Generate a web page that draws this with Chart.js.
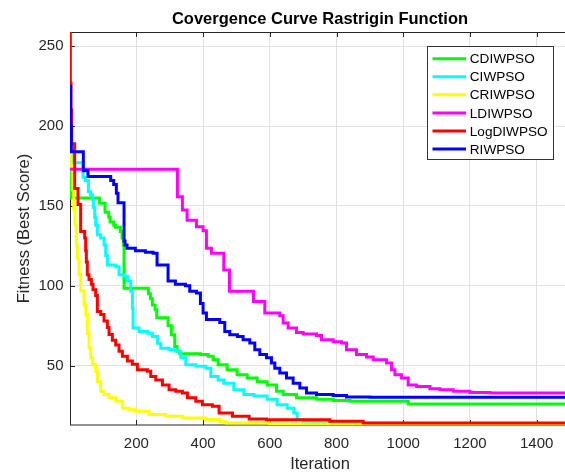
<!DOCTYPE html>
<html>
<head>
<meta charset="utf-8">
<title>Covergence Curve Rastrigin Function</title>
<script src="https://cdn.jsdelivr.net/npm/chart.js@4.4.1/dist/chart.umd.min.js"></script>
<style>
    html, body { margin: 0; padding: 0; background: #fff; overflow: hidden; }
    .chart-container { position: relative; width: 571px; height: 475px; }
</style>
</head>
<body>
<div class="chart-container"><canvas id="chart"></canvas></div>
<script>
// Series: iteration where a new best score starts, and that score
const seriesNames = ['CDIWPSO', 'CIWPSO', 'CRIWPSO', 'LDIWPSO', 'LogDIWPSO', 'RIWPSO'];
const seriesColors = ['#00ff00', '#00ffff', '#ffff00', '#ff00ff', '#ff0000', '#0000ff'];

const cdiwpsoIter = [1, 3, 5, 89, 106, 117, 121, 132, 137, 152, 157, 161, 163, 236, 242, 248, 256, 261, 295, 305, 315, 322, 330, 392, 415, 430, 445, 472, 502, 532, 562, 592, 620, 640, 680, 740, 790, 840, 1015, 1500];
const cdiwpsoFit  = [188, 165, 155, 151.7, 146, 143, 140, 138, 136.7, 134, 130, 125.6, 98.5, 95, 92, 88, 85, 80, 75, 69.4, 62, 59, 57.5, 57, 56, 53.8, 50.6, 47.5, 44.4, 42.3, 40, 38, 34, 32, 30, 29, 28.2, 27.8, 26, 26];

const ciwpsoIter = [1, 2, 3, 8, 40, 47, 56, 62, 68, 71, 75, 78, 83, 93, 103, 108, 113, 138, 148, 163, 173, 183, 188, 190, 208, 233, 248, 263, 273, 298, 318, 333, 348, 378, 408, 423, 445, 462, 492, 522, 552, 592, 622, 652, 672, 682, 700, 800, 1000, 1200, 1500];
const ciwpsoFit  = [222, 200, 187, 177, 168, 166, 159, 157, 154, 149, 143, 138, 132, 130, 125.6, 119, 113, 112, 107, 106, 103, 96.6, 86, 73.6, 71.4, 70.4, 68.3, 64, 61, 60, 59, 55, 50.6, 49.6, 48.5, 43.3, 41, 39, 35, 32, 31, 29, 25.6, 23.4, 20.4, 16.3, 15, 14, 13.4, 13, 12.95];

const criwpsoIter = [1, 4, 8, 12, 16, 20, 23, 28, 33, 43, 48, 53, 58, 63, 68, 78, 83, 93, 103, 118, 138, 158, 178, 198, 238, 288, 338, 408, 450, 470, 600, 900, 1500];
const criwpsoFit  = [187, 175, 160, 148, 138, 125, 117, 107, 97, 88, 82, 70, 61, 55, 50.6, 46.5, 40, 34, 32, 30, 27.7, 23.4, 22.5, 21.5, 19.4, 18.3, 17.3, 16.3, 15, 14.2, 13.5, 13.1, 12.9];

const ldiwpsoIter = [1, 323, 338, 352, 380, 400, 410, 425, 462, 479, 551, 585, 630, 640, 655, 680, 700, 740, 755, 790, 815, 830, 860, 890, 910, 950, 965, 975, 995, 1015, 1040, 1080, 1110, 1150, 1200, 1260, 1500];
const ldiwpsoFit  = [173, 155.8, 147.5, 141, 137, 134.5, 123.6, 120.4, 110, 96.6, 90.2, 83, 81.3, 76.7, 73.6, 70.8, 69.8, 69, 66.3, 65, 64.2, 60, 57, 55.5, 53.8, 51.7, 47.5, 44.4, 42.3, 38, 37, 35.6, 35, 34, 33.3, 33, 32.9];

const logdiwpsoIter = [1, 2, 4, 6, 15, 25, 33, 45, 48, 50, 53, 58, 65, 70, 78, 83, 93, 103, 113, 118, 128, 138, 148, 158, 173, 188, 203, 233, 243, 258, 278, 298, 318, 338, 353, 378, 398, 428, 448, 488, 538, 590, 780, 880, 1500];
const logdiwpsoFit  = [258.9, 227, 210, 189, 161, 151, 134, 130, 122, 115, 107, 104, 101, 97.5, 94, 84, 82, 78, 74, 69.6, 66, 63, 59, 56, 53, 51, 47.5, 46.5, 43.3, 41, 38, 35, 34, 33, 30, 27.7, 25.6, 24.6, 20.4, 18.3, 16.7, 16.2, 15.2, 14.1, 14];

const riwpsoIter = [1, 3, 5, 41, 55, 123, 132, 140, 145, 163, 166, 172, 197, 227, 250, 262, 295, 317, 347, 360, 380, 392, 400, 410, 450, 465, 480, 503, 520, 540, 555, 570, 590, 605, 615, 630, 650, 670, 690, 710, 740, 790, 830, 900, 1500];
const riwpsoFit  = [225, 200, 184, 172, 168.4, 166, 163.5, 158, 152, 128, 125.6, 123.6, 122, 121, 120.4, 113, 103, 101, 100, 96.6, 95.6, 89, 83, 79, 77, 71.4, 69.4, 68.3, 66.3, 64.2, 60, 57, 55, 51.7, 48.5, 45.5, 42.3, 39, 36, 33, 32, 31.3, 30.5, 30.2, 30.2];

const xTicks = [200, 400, 600, 800, 1000, 1200, 1400];
const yTicks = [50, 100, 150, 200, 250];

const iters = [cdiwpsoIter, ciwpsoIter, criwpsoIter, ldiwpsoIter, logdiwpsoIter, riwpsoIter];
const fits = [cdiwpsoFit, ciwpsoFit, criwpsoFit, ldiwpsoFit, logdiwpsoFit, riwpsoFit];

const FONT = "'Liberation Sans', Arial, Helvetica, sans-serif";
const AXIS_COLOR = '#262626';

// Box round the axes plus inward tick marks, like the MATLAB axes
const axesBox = {
    id: 'axesBox',
    beforeDatasetsDraw(chart) {
        const { ctx, chartArea: a, scales: { x, y } } = chart;
        const len = 5;

        ctx.save();
        ctx.strokeStyle = AXIS_COLOR;
        ctx.lineWidth = 1;
        ctx.beginPath();

        x.ticks.forEach(t => {
            const px = Math.round(x.getPixelForValue(t.value)) + 0.5;
            ctx.moveTo(px, a.bottom);
            ctx.lineTo(px, a.bottom - len);
            ctx.moveTo(px, a.top);
            ctx.lineTo(px, a.top + len);
        });

        y.ticks.forEach(t => {
            const py = Math.round(y.getPixelForValue(t.value)) + 0.5;
            ctx.moveTo(a.left, py);
            ctx.lineTo(a.left + len, py);
            ctx.moveTo(a.right, py);
            ctx.lineTo(a.right - len, py);
        });

        ctx.stroke();
        ctx.strokeRect(a.left + 0.5, a.top + 0.5, a.right - a.left - 1, a.bottom - a.top - 0.5);
        ctx.restore();
    }
};

// Legend box in the top right corner of the axes
const legendBox = {
    id: 'legendBox',
    afterDraw(chart) {
        const { ctx, chartArea: a } = chart;
        const boxW = 126;
        const boxH = 113;
        const left = a.right - 16.5 - boxW;
        const top = a.top + 14.5;
        const rowH = 18.07;

        ctx.save();
        ctx.fillStyle = '#ffffff';
        ctx.fillRect(left, top, boxW, boxH);
        ctx.strokeStyle = '#333333';
        ctx.lineWidth = 1;
        ctx.strokeRect(left, top, boxW, boxH);

        ctx.font = `13.6px ${FONT}`;
        ctx.textBaseline = 'middle';
        ctx.textAlign = 'left';

        chart.data.datasets.forEach((ds, i) => {
            const rowY = top + 12.2 + i * rowH;

            ctx.strokeStyle = ds.borderColor;
            ctx.lineWidth = 3;
            ctx.beginPath();
            ctx.moveTo(left + 5, rowY);
            ctx.lineTo(left + 38.5, rowY);
            ctx.stroke();

            ctx.fillStyle = '#000000';
            ctx.fillText(ds.label, left + 42.3, rowY + 0.9);
        });

        ctx.restore();
    }
};

const datasets = seriesNames.map((name, i) => ({
    label: name,
    data: iters[i].map((it, j) => ({ x: it, y: fits[i][j] })),
    borderColor: seriesColors[i],
    backgroundColor: seriesColors[i],
    borderWidth: 3,
    pointRadius: 0,
    // hold the previous best score until the next improvement
    stepped: 'before',
    fill: false,
    // later series in the legend are drawn on top
    order: seriesNames.length - 1 - i
}));

new Chart(document.getElementById('chart'), {
    type: 'line',
    data: { datasets },
    options: {
        responsive: true,
        maintainAspectRatio: false,
        animation: false,
        devicePixelRatio: 1,
        layout: { padding: { left: 0, right: 1, top: 0, bottom: 0 } },
        plugins: {
            legend: { display: false },
            tooltip: { enabled: false },
            title: {
                display: true,
                text: 'Covergence Curve Rastrigin Function',
                fullSize: false,
                color: '#000000',
                font: { family: FONT, size: 16.5, weight: 'bold' },
                padding: { top: 9.4, bottom: 2.8 }
            }
        },
        scales: {
            x: {
                type: 'linear',
                min: 1,
                max: 1500,
                afterBuildTicks: (scale) => {
                    scale.ticks = xTicks.map(v => ({ value: v }));
                },
                afterFit: (scale) => {
                    scale.height = 50;
                },
                grid: { color: '#e1e1e1', lineWidth: 1, drawTicks: false },
                border: { display: false },
                ticks: {
                    color: AXIS_COLOR,
                    font: { family: FONT, size: 15 },
                    padding: 9.8,
                    maxRotation: 0,
                    callback: (v) => String(v)
                },
                title: {
                    display: true,
                    text: 'Iteration',
                    color: AXIS_COLOR,
                    font: { family: FONT, size: 16.5 },
                    padding: { top: 0, bottom: 0.8 }
                }
            },
            y: {
                type: 'linear',
                min: 12.9,
                max: 258.9,
                afterBuildTicks: (scale) => {
                    scale.ticks = yTicks.map(v => ({ value: v }));
                },
                afterFit: (scale) => {
                    scale.width = 70;
                },
                grid: { color: '#e1e1e1', lineWidth: 1, drawTicks: false },
                border: { display: false },
                ticks: {
                    color: AXIS_COLOR,
                    font: { family: FONT, size: 15 },
                    padding: 6.5,
                    callback: (v) => String(v)
                },
                title: {
                    display: true,
                    text: 'Fitness (Best Score)',
                    color: AXIS_COLOR,
                    font: { family: FONT, size: 16.5 },
                    padding: { top: 14.4, bottom: 0 }
                }
            }
        }
    },
    plugins: [axesBox, legendBox]
});
</script>
</body>
</html>
